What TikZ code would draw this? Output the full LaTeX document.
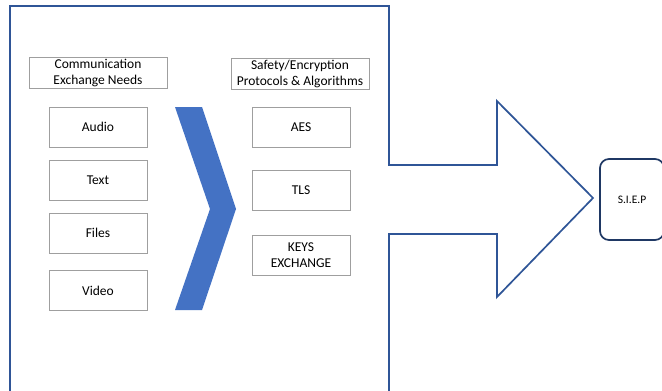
\documentclass[tikz,border=0pt]{standalone}
\usepackage{fontspec}
\setmainfont{Carlito}
\definecolor{frameblue}{RGB}{47,85,151}
\definecolor{chevblue}{RGB}{68,114,196}
\definecolor{siepnavy}{RGB}{31,56,100}

\begin{document}
\begin{tikzpicture}[x=1pt, y=-1pt,
    head/.style={draw=gray!75, line width=0.9pt, minimum width=138pt, minimum height=31pt,
      align=center, inner sep=1pt, font=\fontsize{13.5}{16}\selectfont},
    item/.style={draw=gray!75, line width=0.9pt, minimum width=98pt, minimum height=40pt,
      align=center, inner sep=1pt, font=\fontsize{13.5}{16}\selectfont}]
    \clip (0,0) rectangle (662,391);
    \fill[white] (0,0) rectangle (662,391);
    % frame with the big arrow
    \draw[frameblue, line width=1.7pt, line join=miter] (389,234) -- (497,234) -- (497,297)
      -- (593,198) -- (497,101) -- (497,165) -- (389,165) -- (389,6) -- (10,6) -- (10,400)
      -- (389,400) -- cycle;
    % chevron
    \fill[chevblue] (175,107) -- (202,107) -- (236,209) -- (202,310) -- (175,310)
      -- (210,209) -- cycle;
    \node[head] (need) at (98,72.5)
    {Communication\\Exchange Needs}; \node[head] (prot) at (300,73.5)
    {Safety/Encryption\\Protocols \& Algorithms};
    \node[item] (aud) at (98,127)
    {Audio}; \node[item] (txt) at (98,180)
    {Text}; \node[item] (fil) at (98,233)
    {Files}; \node[item] (vid) at (98,290.5)
    {Video};
    \node[item] (aes) at (301,127.5)
    {AES}; \node[item] (tls) at (301,190)
    {TLS}; \node[item] (keys) at (301,255)
    {KEYS\\EXCHANGE};
    \node[draw=siepnavy, line width=1.7pt, rounded corners=9pt, minimum width=64pt,
      minimum height=81pt, font=\fontsize{11.5}{13}\selectfont] (siep) at (632,199.5)
    {S.I.E.P};
  \end{tikzpicture}
\end{document}
